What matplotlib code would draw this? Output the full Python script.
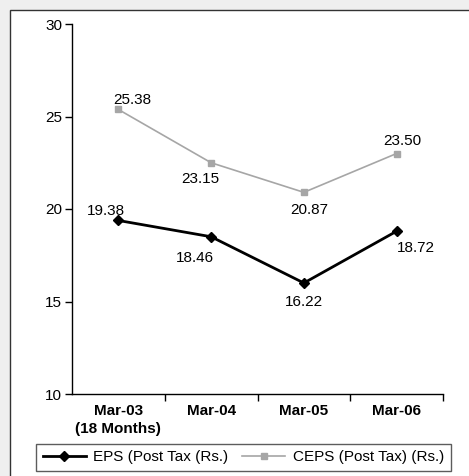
import matplotlib
matplotlib.use("Agg")
import matplotlib.pyplot as plt
from matplotlib.patches import Rectangle

plt.rcParams['font.family'] = ['Liberation Sans', 'DejaVu Sans']

# data
categories = ['Mar-03\n(18 Months)', 'Mar-04', 'Mar-05', 'Mar-06']
eps = [19.38, 18.5, 16.0, 18.8]          # plotted positions
eps_labels = ['19.38', '18.46', '16.22', '18.72']
ceps = [25.38, 22.5, 20.9, 23.0]
ceps_labels = ['25.38', '23.15', '20.87', '23.50']

# label offsets in points (dx, dy)
eps_off = [(-9, 7), (-12, -15), (0, -14), (14, -12)]
ceps_off = [(10, 7), (-8, -12), (4, -13), (4, 9)]

FS = 11

fig = plt.figure(figsize=(4.69, 4.76), dpi=100)
fig.patch.set_facecolor('#efefef')
panel = Rectangle((10/469, -0.1), 1.2, 1 - 10/476 + 0.1,
                  transform=fig.transFigure, facecolor='white',
                  edgecolor='#333333', linewidth=1.0, zorder=-10)
fig.patches.append(panel)

ax = fig.add_axes([72/469, 1 - 394/476, 371/469, 370/476])
ax.set_zorder(5)
ax.set_facecolor('none')
x = list(range(len(categories)))

ax.plot(x, eps, color='black', linewidth=2.0, marker='D', markersize=5,
        label='EPS (Post Tax (Rs.)')
ax.plot(x, ceps, color='#a6a6a6', linewidth=1.2, marker='s', markersize=5,
        label='CEPS (Post Tax) (Rs.)')

for xi, v, s, o in zip(x, eps, eps_labels, eps_off):
    ax.annotate(s, (xi, v), xytext=o, textcoords='offset points',
                ha='center', va='center', fontsize=FS)
for xi, v, s, o in zip(x, ceps, ceps_labels, ceps_off):
    ax.annotate(s, (xi, v), xytext=o, textcoords='offset points',
                ha='center', va='center', fontsize=FS)

ax.set_xlim(-0.5, 3.5)
ax.set_ylim(10, 30)
ax.set_yticks([10, 15, 20, 25, 30])
ax.tick_params(axis='y', labelsize=FS, length=5, width=1, direction='out', pad=2)
ax.set_xticks(x)
ax.set_xticklabels(categories, fontweight='bold', fontsize=FS, linespacing=1.4)
ax.set_xticks([0.5, 1.5, 2.5, 3.5], minor=True)
ax.tick_params(axis='x', which='major', length=0, pad=7)
ax.tick_params(axis='x', which='minor', length=5, width=1, direction='out')
for side in ['top', 'right']:
    ax.spines[side].set_visible(False)
for side in ['left', 'bottom']:
    ax.spines[side].set_linewidth(1.0)

leg = fig.legend(loc='center', bbox_to_anchor=(243.5/469, 1 - 457.5/476), ncol=2,
                 fontsize=FS, frameon=True, fancybox=False, edgecolor='#333333',
                 handlelength=2.8, columnspacing=0.9, handletextpad=0.5,
                 borderpad=0.45)
leg.get_frame().set_linewidth(1.0)
leg.set_zorder(6)

fig.savefig('out.png', dpi=100, facecolor=fig.get_facecolor())
